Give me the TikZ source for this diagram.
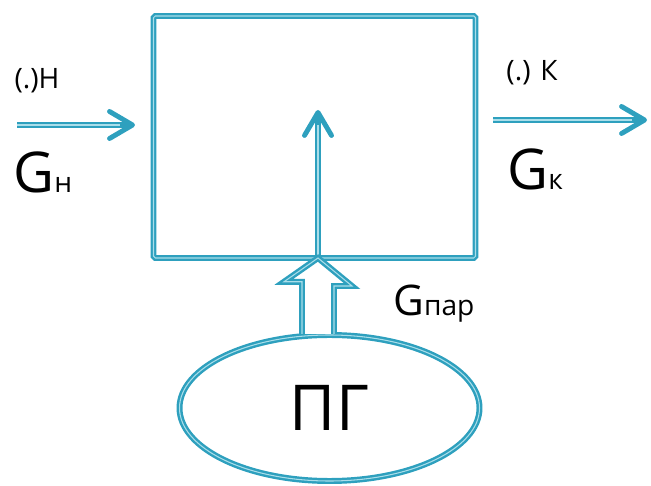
\documentclass[tikz,border=0pt]{standalone}
\usepackage{fontspec}
\setmainfont{Open Sans}
\usepackage{tikz}
\usetikzlibrary{arrows.meta, positioning, shapes.geometric, calc}

\definecolor{flowteal}{RGB}{46,160,190}
\definecolor{flowlight}{RGB}{170,222,234}

\begin{document}
\begin{tikzpicture}[
    dline/.style={draw=flowteal, line width=1.4pt, double=flowlight, double distance=0.6pt},
    barb/.style={-{Straight Barb[round, length=4.6mm, width=5.4mm, line width=2.8pt]}},
    flow/.style={draw=flowlight, line width=0.6pt, shorten >=3mm,
      preaction={draw=flowteal, line width=3.4pt, shorten >=0pt, barb}},
    small/.style={font=\fontsize{16}{16}\selectfont}
  ]
  \useasboundingbox (0,0) rectangle (13.02,9.7);

  % Main block
  \node[dline, rounded corners=1pt, minimum width=6.44cm, minimum height=4.84cm] (box) at (6.29,6.96) {};

  % Steam generator
  \node[dline, ellipse, minimum width=6.0cm, minimum height=2.92cm,
        font=\fontsize{36}{36}\selectfont] (pg) at (6.59,1.54) {ПГ};

  % Input and output flows
  \coordinate (inL) at (0.34,7.2);
  \coordinate (inR) at (2.7,7.2);
  \coordinate (outL) at (9.86,7.3);
  \coordinate (outR) at (12.94,7.3);
  \draw[flow] (inL) -- (inR);
  \draw[flow] (outL) -- (outR);

  % Inner vertical arrow
  \coordinate (vbot) at (6.36,4.54);
  \coordinate (vtop) at (6.36,7.5);
  \draw[flow] (vbot) -- (vtop);

  % Hollow block arrow from ПГ
  \draw[dline, fill=white, line join=miter]
    ($(vbot |- pg.north)+(-0.32,0)$) -- ++(0,1.04) -- ++(-0.36,0)
    -- (vbot) -- ++(0.68,-0.56) -- ++(-0.36,0) -- ($(vbot |- pg.north)+(0.32,0)$);

  % Labels
  \node[small] (hin) at (0.74,8.08) {(.)Н};
  \node[anchor=base west, inner sep=0pt] (gin) at (0.26,5.84)
    {{\fontsize{32}{32}\selectfont G}{\fontsize{16}{16}\selectfont н}};
  \node[small] (kout) at (10.64,8.24) {(.) К};
  \node[anchor=base west, inner sep=0pt] (gout) at (10.14,5.9)
    {{\fontsize{32}{32}\selectfont G}{\fontsize{16}{16}\selectfont к}};
  \node[anchor=base west, inner sep=0pt] (gpar) at (7.86,3.38)
    {{\fontsize{24}{24}\selectfont G}{\fontsize{16}{16}\selectfont пар}};
\end{tikzpicture}
\end{document}
